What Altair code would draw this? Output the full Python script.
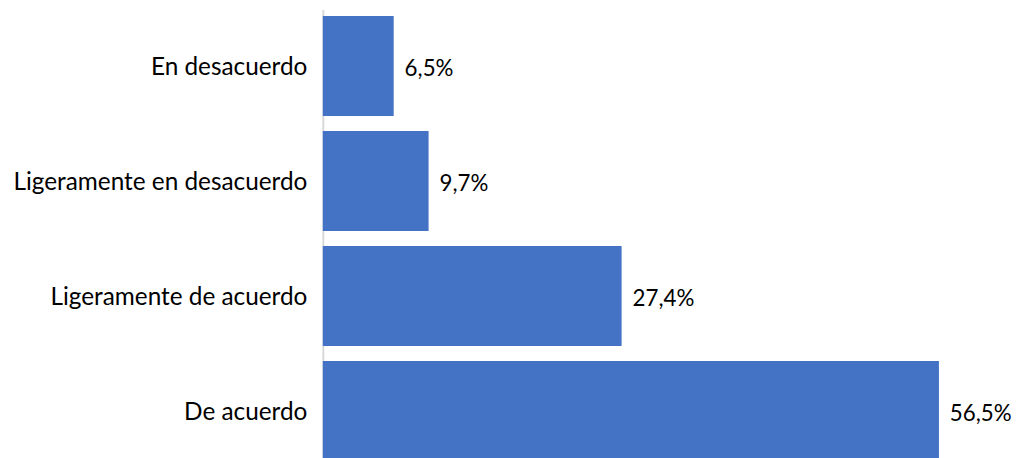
import altair as alt
import pandas as pd

categories = ["En desacuerdo", "Ligeramente en desacuerdo", "Ligeramente de acuerdo", "De acuerdo"]
values = [6.5, 9.7, 27.4, 56.5]

df = pd.DataFrame({"cat": categories, "value": values})

FONT = "Lato"

base = alt.Chart(df).transform_calculate(
    label="replace(format(datum.value, '.1f'), '.', ',') + '%'"
)

y = alt.Y("cat:N", sort=categories,
          scale=alt.Scale(paddingInner=0.13, paddingOuter=0.055),
          axis=alt.Axis(title=None, ticks=False, domain=True, domainColor="#d9d9d9",
                        domainWidth=2, labelFont=FONT, labelFontSize=24.5,
                        labelColor="#000000", labelPadding=16, labelLimit=400,
                        labelOffset=2))
x = alt.X("value:Q", scale=alt.Scale(domain=[0, 63.2]), axis=None)

bars = base.mark_bar(color="#4472C4").encode(x=x, y=y)
text = base.mark_text(align="left", baseline="middle", dx=11, dy=3, font=FONT,
                      fontSize=22.5, color="#000000").encode(x=x, y=y, text="label:N")

chart = (bars + text).properties(
    width=694, height=461,
    autosize=alt.AutoSizeParams(type="none"),
    padding={"left": 317, "top": 0, "right": 0, "bottom": 0},
).configure_view(stroke=None)

chart.save("out.html", embed_options={"renderer": "svg", "actions": False})
